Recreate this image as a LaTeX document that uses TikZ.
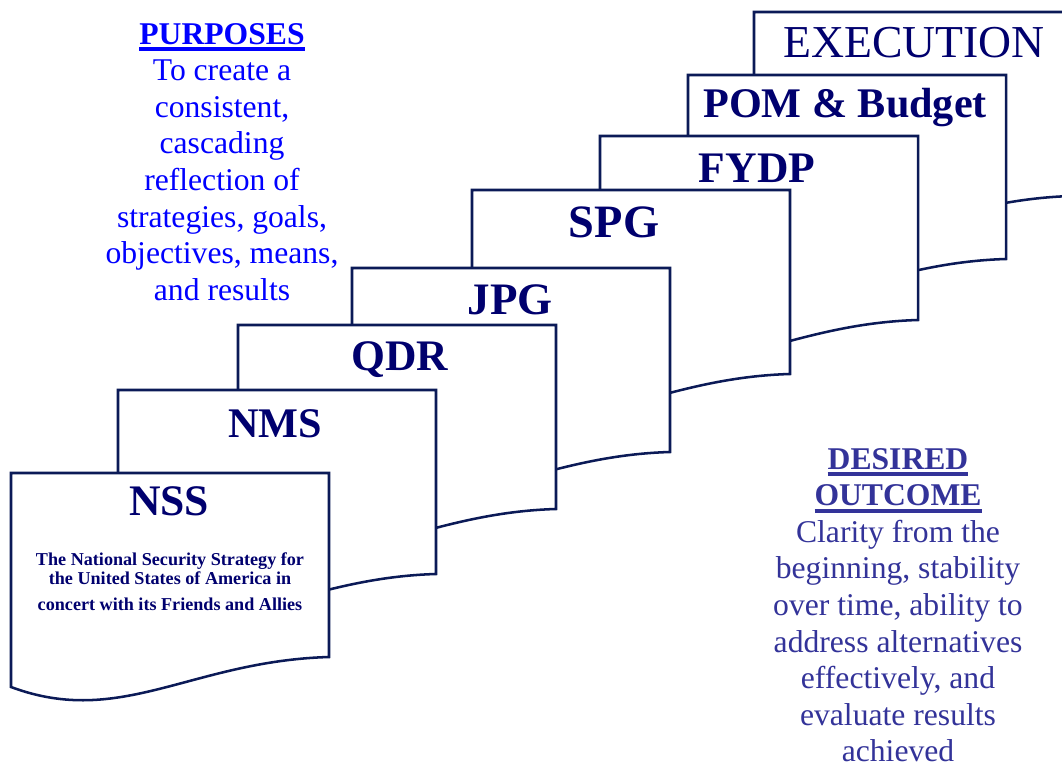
\documentclass[tikz,border=0pt]{standalone}
\usepackage{fontspec}
\setmainfont{Liberation Serif}
\definecolor{SheetLine}{HTML}{0B1A57}
\definecolor{SheetInk}{HTML}{00006E}
\definecolor{PurposeBlue}{HTML}{0000FF}
\definecolor{OutcomeBlue}{HTML}{333399}
\newcommand\headrule[1]{\setbox0\hbox{#1}\rlap{\rule[-4.8pt]{\wd0}{2.8pt}}\box0}
\tikzset{
  sheet/.style={draw=SheetLine, fill=white, line width=1.8pt},
  docsheet/.pic={
    \path[sheet] (0,0) -- (318,0) -- (318,184)
      .. controls (180,188) and (110,255) .. (0,214) -- cycle;
  },
  sheetlabel/.style={anchor=base, inner sep=0pt, text=SheetInk,
    font=\fontsize{31}{31}\selectfont\bfseries},
  bigtext/.style={anchor=north, inner sep=0pt, align=center,
    font=\fontsize{22.5}{26}\selectfont},
}
\begin{document}
\begin{tikzpicture}[x=0.025cm,y=-0.025cm]
  \path[use as bounding box, fill=white] (0,0) rectangle (1062,767);
  \clip (0,0) rectangle (1062,767);

  % Sheets from the back (execution) to the front (strategy).
  \pic at (754,12) {docsheet};
  \node[sheetlabel, font=\fontsize{32.5}{32.5}\selectfont] (exec) at (914,58)
    {EXECUTION};
  \pic at (688,75) {docsheet};
  \node[sheetlabel, font=\fontsize{30}{30}\selectfont\bfseries] (pom) at (845,118)
    {POM \& Budget};
  \pic at (600,136) {docsheet};
  \node[sheetlabel] (fydp) at (757,183) {FYDP};
  \pic at (472,190) {docsheet};
  \node[sheetlabel, font=\fontsize{33}{33}\selectfont\bfseries] (spg) at (614,237)
    {SPG};
  \pic at (352,268) {docsheet};
  \node[sheetlabel, font=\fontsize{32}{32}\selectfont\bfseries] (jpg) at (510,314)
    {JPG};
  \pic at (238,325) {docsheet};
  \node[sheetlabel] (qdr) at (400,370) {QDR};
  \pic at (118,390) {docsheet};
  \node[sheetlabel, font=\fontsize{30}{30}\selectfont\bfseries] (nms) at (275,437)
    {NMS};
  \pic at (11,473) {docsheet};
  \node[sheetlabel] (nss) at (169,515) {NSS};
  \node[anchor=north, inner sep=0pt, align=center, text=SheetInk,
    font=\fontsize{12.9}{13.5}\selectfont\bfseries] (nssnote) at (170,552)
    {The National Security Strategy for\\
     the United States of America in\\[5pt]
     concert with its Friends and Allies};

  % Purposes, upper left.
  \node[bigtext, text=PurposeBlue] (purposes) at (222,23)
    {\headrule{\bfseries PURPOSES}\\ To create a\\ consistent,\\ cascading\\
     reflection of\\ strategies, goals,\\ objectives, means,\\ and results};

  % Desired outcome, lower right.
  \node[bigtext, text=OutcomeBlue] (outcome) at (898,448)
    {\headrule{\bfseries DESIRED}\\ \headrule{\bfseries OUTCOME}\\
     Clarity from the\\ beginning, stability\\ over time, ability to\\
     address alternatives\\ effectively, and\\ evaluate results\\ achieved};
\end{tikzpicture}
\end{document}
